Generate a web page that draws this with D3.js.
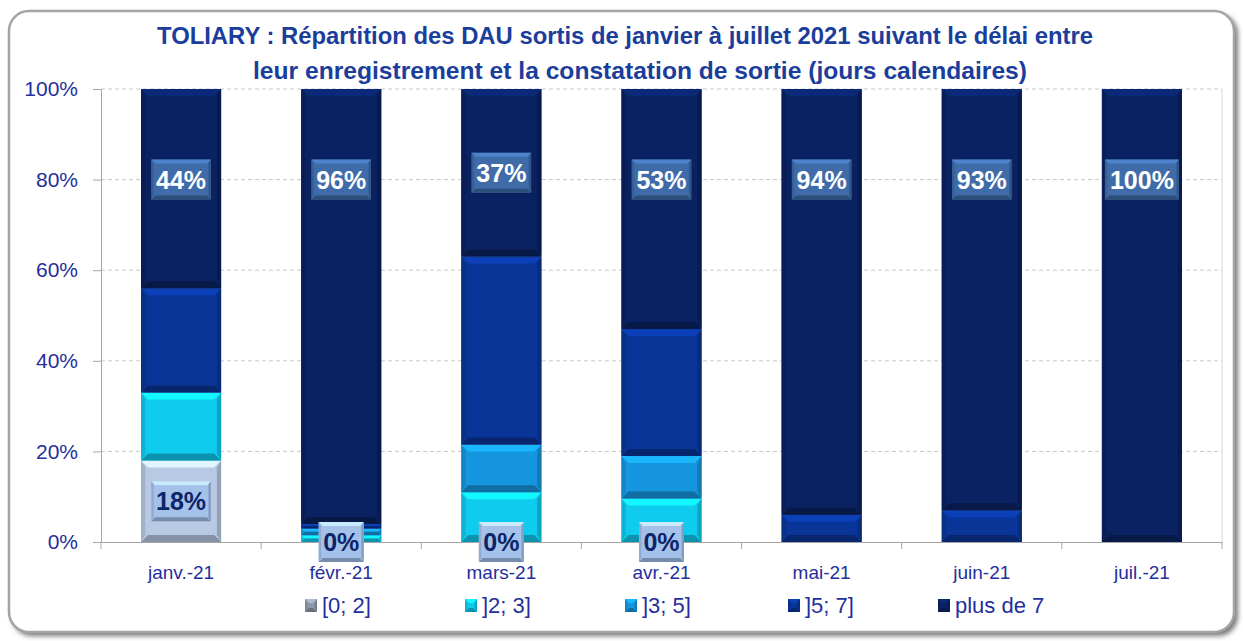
<!DOCTYPE html>
<html>
<head>
<meta charset="utf-8">
<script src="https://cdn.jsdelivr.net/npm/d3@7"></script>
<style>
  html, body { margin: 0; padding: 0; background: #ffffff; }
  svg { display: block; }
</style>
</head>
<body>
<div id="chart"></div>
<script>
// data (percent of DAU per month)
const months = ['janv.-21', 'févr.-21', 'mars-21', 'avr.-21', 'mai-21', 'juin-21', 'juil.-21']
const seriesNames = ['[0; 2]', ']2; 3]', ']3; 5]', ']5; 7]', 'plus de 7']
const s0to2 = [18, 0, 0, 0, null, null, null]
const s2to3 = [15, 1.5, 11, 9.6, 0, 0, 0]
const s3to5 = [0, 1.5, 10.5, 9.4, 0, 0, 0]
const s5to7 = [23, 1, 41.5, 28, 6, 7, 0]
const sOver7 = [44, 96, 37, 53, 94, 93, 100]
const yTicks = [0, 20, 40, 60, 80, 100]
const titleLines = [
    'TOLIARY : Répartition des DAU sortis de janvier à juillet 2021 suivant le délai entre',
    'leur enregistrement et la constatation de sortie (jours calendaires)'
]

const seriesValues = [s0to2, s2to3, s3to5, s5to7, sOver7]
const colors = ['#b7c9e3', '#0fcbee', '#1596df', '#0a3598', '#0a2262']
const labelled = ['[0; 2]', 'plus de 7']

const W = 1243, H = 641
const margin = { left: 101, right: 21, top: 89, bottom: 99 }
const innerW = W - margin.left - margin.right
const innerH = H - margin.top - margin.bottom
const blue = '#1f2f9c'
const font = '"Liberation Sans", Arial, sans-serif'

const table = months.map((m, i) => {
    const row = { month: m }
    seriesNames.forEach((s, k) => { row[s] = seriesValues[k][i] })
    return row
})

const stack = d3.stack()
    .keys(seriesNames)
    .value((d, key) => d[key] == null ? 0 : d[key])
const layers = stack(table)

const x = d3.scaleBand().domain(months).range([0, innerW]).paddingInner(0.5).paddingOuter(0.25)
const y = d3.scaleLinear().domain([0, 100]).range([innerH, 0])

const svg = d3.select('#chart').append('svg')
    .attr('width', W).attr('height', H)
    .attr('xmlns', 'http://www.w3.org/2000/svg')

const defs = svg.append('defs')
const shadow = defs.append('filter').attr('id', 'shadow').attr('x', '-5%').attr('y', '-5%').attr('width', '110%').attr('height', '110%')
shadow.append('feGaussianBlur').attr('stdDeviation', 2.5)

const boxGrad = defs.append('linearGradient').attr('id', 'boxGrad').attr('x1', 0).attr('y1', 0).attr('x2', 0).attr('y2', 1)
boxGrad.append('stop').attr('offset', '0%').attr('stop-color', '#5583bd')
boxGrad.append('stop').attr('offset', '100%').attr('stop-color', '#325d97')
const lightGrad = defs.append('linearGradient').attr('id', 'lightGrad').attr('x1', 0).attr('y1', 0).attr('x2', 0).attr('y2', 1)
lightGrad.append('stop').attr('offset', '0%').attr('stop-color', '#c4d8f4')
lightGrad.append('stop').attr('offset', '100%').attr('stop-color', '#98b6e2')

// frame with shadow
svg.append('rect')
    .attr('x', 12).attr('y', 14).attr('width', 1226).attr('height', 622)
    .attr('rx', 20).attr('fill', '#7a7a7a').attr('filter', 'url(#shadow)')
svg.append('rect')
    .attr('x', 9).attr('y', 11).attr('width', 1225).attr('height', 621)
    .attr('rx', 20).attr('fill', '#ffffff').attr('stroke', '#a4a4a4').attr('stroke-width', 2.5)

// title
svg.append('g').selectAll('text')
    .data(titleLines)
    .join('text')
    .attr('x', (d, i) => i === 0 ? 625 : 640)
    .attr('y', (d, i) => 44 + i * 35)
    .attr('text-anchor', 'middle')
    .attr('textLength', (d, i) => i === 0 ? 936 : 774)
    .attr('lengthAdjust', 'spacingAndGlyphs')
    .attr('font-family', font)
    .attr('font-weight', 'bold')
    .attr('font-size', 24)
    .attr('fill', '#1b3d9b')
    .text(d => d)

const g = svg.append('g').attr('transform', `translate(${margin.left},${margin.top})`)

// gridlines
g.append('g').selectAll('line')
    .data(yTicks.filter(t => t > 0))
    .join('line')
    .attr('x1', 0).attr('x2', innerW)
    .attr('y1', d => y(d)).attr('y2', d => y(d))
    .attr('stroke', '#c9c9c9').attr('stroke-dasharray', '4,3')
g.append('line')
    .attr('x1', innerW).attr('x2', innerW).attr('y1', 0).attr('y2', innerH)
    .attr('stroke', '#d6d6d6')

// y axis
const yAxis = g.append('g')
    .call(d3.axisLeft(y).tickValues(yTicks).tickFormat(d => d + '%').tickSize(8).tickPadding(15))
yAxis.select('.domain').attr('stroke', '#a6a6a6')
yAxis.selectAll('.tick line').attr('stroke', '#a6a6a6')
yAxis.selectAll('.tick text')
    .attr('font-family', font).attr('font-size', 21).attr('fill', blue)

// x axis
const xAxis = g.append('g')
    .attr('transform', `translate(0,${innerH})`)
    .call(d3.axisBottom(x).tickSize(0).tickPadding(24))
xAxis.select('.domain').attr('stroke', '#a6a6a6')
xAxis.selectAll('.tick text')
    .attr('font-family', font).attr('font-size', 19).attr('fill', blue)
g.append('g').selectAll('line')
    .data(d3.range(months.length + 1))
    .join('line')
    .attr('x1', i => i * x.step()).attr('x2', i => i * x.step())
    .attr('y1', innerH).attr('y2', innerH + 7)
    .attr('stroke', '#a6a6a6')

// beveled box drawing
function bevel(sel, bx, by, bw, bh, color, b) {
    const c = d3.color(color)
    const t = Math.min(b, bh / 2)
    sel.append('rect').attr('x', bx).attr('y', by).attr('width', bw).attr('height', bh).attr('fill', color)
    const poly = (pts, fill) => sel.append('polygon').attr('points', pts.map(p => p.join(',')).join(' ')).attr('fill', fill)
    poly([[bx, by], [bx + bw, by], [bx + bw - t, by + t], [bx + t, by + t]], c.brighter(0.55))
    poly([[bx, by + bh], [bx + bw, by + bh], [bx + bw - t, by + bh - t], [bx + t, by + bh - t]], c.darker(0.9))
    poly([[bx, by], [bx + t * 0.6, by + t], [bx + t * 0.6, by + bh - t], [bx, by + bh]], c.darker(0.35))
    poly([[bx + bw, by], [bx + bw - t * 0.6, by + t], [bx + bw - t * 0.6, by + bh - t], [bx + bw, by + bh]], c.darker(0.6))
}

// bars
const bars = g.append('g')
layers.forEach((layer, k) => {
    layer.forEach((d, i) => {
        const h = y(d[0]) - y(d[1])
        if (h <= 0) return
        const seg = bars.append('g')
        bevel(seg, x(months[i]), y(d[1]), x.bandwidth(), h, colors[k], 7)
    })
})

// value labels for [0; 2] and plus de 7
const labels = g.append('g')
layers.forEach((layer, k) => {
    if (!labelled.includes(seriesNames[k])) return
    const dark = seriesNames[k] === 'plus de 7'
    layer.forEach((d, i) => {
        const v = seriesValues[k][i]
        if (v == null) return
        const cx = x(months[i]) + x.bandwidth() / 2
        let cy = (y(d[0]) + y(d[1])) / 2
        if (dark) cy = Math.min(cy, y(80))
        const txt = d3.format('.0f')(v) + '%'
        const lg = labels.append('g')
        const tw = txt.length * 14.5 + 4
        const bw = tw + 12, bh = 40
        bevel(lg, cx - bw / 2, cy - bh / 2, bw, bh, dark ? '#3f6ca8' : '#a4c1ea', 4)
        lg.append('text')
            .attr('x', cx).attr('y', cy + 9)
            .attr('text-anchor', 'middle')
            .attr('font-family', font).attr('font-weight', 'bold').attr('font-size', 25)
            .attr('fill', dark ? '#ffffff' : '#0c2468')
            .text(txt)
    })
})

// legend
const legendX = [305, 465, 625, 788, 938]
const legend = svg.append('g')
seriesNames.forEach((s, k) => {
    const lg = legend.append('g')
    bevel(lg, legendX[k], 599, 12, 13, k === 0 ? '#8d9aab' : colors[k], 4)
    lg.append('text')
        .attr('x', legendX[k] + 17).attr('y', 613)
        .attr('font-family', font).attr('font-size', 22).attr('fill', blue)
        .text(s)
})
</script>
</body>
</html>
